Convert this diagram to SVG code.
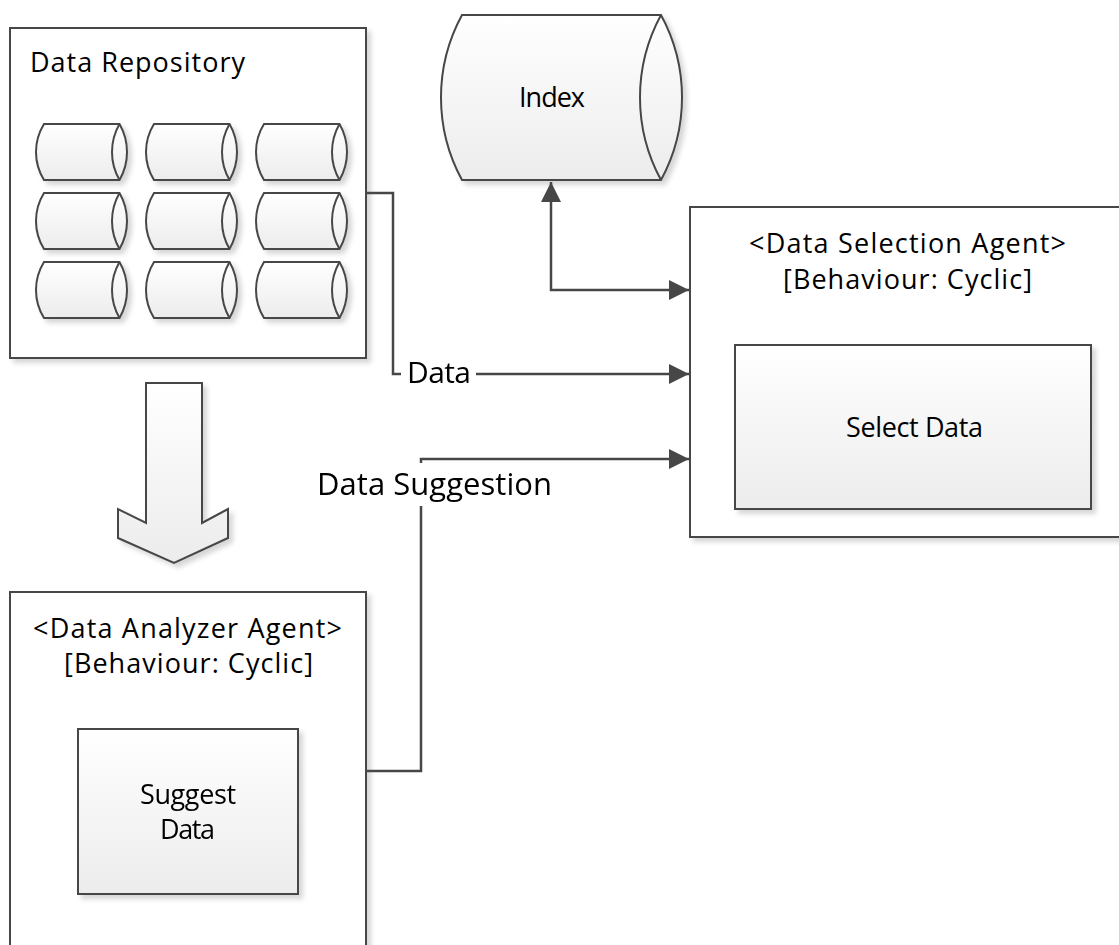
<svg xmlns="http://www.w3.org/2000/svg" width="1119" height="945" viewBox="0 0 1119 945">
  <style>
    .frame { fill: #ffffff; stroke: #474747; stroke-width: 2; }
    .shade { fill: url(#fillGrad); stroke: #474747; stroke-width: 2; }
    .edge { fill: none; stroke: #474747; stroke-width: 2.5; }
    .txt { font-family: "Open Sans", "Liberation Sans", sans-serif; font-size: 27px; fill: #000000; }
    .lbl { font-family: "Open Sans", "Liberation Sans", sans-serif; font-size: 30px; fill: #000000; }
  </style>
  <defs>
    <linearGradient id="fillGrad" x1="0" y1="0" x2="0" y2="1">
      <stop offset="0" stop-color="#ffffff"/>
      <stop offset="1" stop-color="#ececec"/>
    </linearGradient>
    <filter id="shadow" x="-10%" y="-10%" width="130%" height="130%">
      <feDropShadow dx="4" dy="4" stdDeviation="2.5" flood-color="#000000" flood-opacity="0.16"/>
    </filter>
    <marker id="arrow" viewBox="0 0 20 20" refX="20" refY="10" markerWidth="20" markerHeight="20" markerUnits="userSpaceOnUse" orient="auto-start-reverse">
      <path d="M0,0 L20,10 L0,20 Z" fill="#474747"/>
    </marker>
    <!-- small horizontal storage cylinder, 91 x 56 -->
    <g id="cyl">
      <path class="shade" d="M8,0 H83.5 A56 56 0 0 1 83.5 56 H8 A53 53 0 0 1 8 0 Z"/>
      <path class="edge" style="stroke-width:2" d="M83.5,0 A56 56 0 0 0 83.5 56"/>
    </g>
  </defs>

  <rect width="1119" height="945" fill="#ffffff"/>

  <!-- Data Repository -->
  <g id="data-repository">
    <rect class="frame" x="10" y="28" width="356" height="330" filter="url(#shadow)"/>
    <text class="txt" x="30" y="72" textLength="215" lengthAdjust="spacing">Data Repository</text>
    <g filter="url(#shadow)">
      <use href="#cyl" x="36" y="124"/>
      <use href="#cyl" x="146" y="124"/>
      <use href="#cyl" x="256" y="124"/>
      <use href="#cyl" x="36" y="193"/>
      <use href="#cyl" x="146" y="193"/>
      <use href="#cyl" x="256" y="193"/>
      <use href="#cyl" x="36" y="262"/>
      <use href="#cyl" x="146" y="262"/>
      <use href="#cyl" x="256" y="262"/>
    </g>
  </g>

  <!-- Index store -->
  <g id="index">
    <path class="shade" filter="url(#shadow)" d="M462,15 H661 A172.5 172.5 0 0 1 661 180 H462 A172.5 172.5 0 0 1 462 15 Z"/>
    <path class="edge" style="stroke-width:2" d="M661,15 A172.5 172.5 0 0 0 661 180"/>
    <text class="txt" x="519" y="107" textLength="66" lengthAdjust="spacing">Index</text>
  </g>

  <!-- Flow arrow from repository to analyzer -->
  <g id="flow-arrow">
    <polygon class="shade" filter="url(#shadow)" points="146,383 202,383 202,523 228,509 228,538 174,563 118,538 118,509 146,523"/>
  </g>

  <!-- Data Selection Agent -->
  <g id="data-selection-agent">
    <rect class="frame" x="690" y="207" width="440" height="330" filter="url(#shadow)"/>
    <text class="txt" x="749" y="253" textLength="317" lengthAdjust="spacing">&lt;Data Selection Agent&gt;</text>
    <text class="txt" x="783" y="289" textLength="249" lengthAdjust="spacing">[Behaviour: Cyclic]</text>
    <g id="select-data">
      <rect class="shade" x="735" y="345" width="356" height="164" filter="url(#shadow)"/>
      <text class="txt" x="846" y="437" textLength="137" lengthAdjust="spacing">Select Data</text>
    </g>
  </g>

  <!-- Data Analyzer Agent -->
  <g id="data-analyzer-agent">
    <rect class="frame" x="10" y="592" width="356" height="370" filter="url(#shadow)"/>
    <text class="txt" x="33" y="638" textLength="309" lengthAdjust="spacing">&lt;Data Analyzer Agent&gt;</text>
    <text class="txt" x="64" y="673" textLength="249" lengthAdjust="spacing">[Behaviour: Cyclic]</text>
    <g id="suggest-data">
      <rect class="shade" x="78" y="729" width="220" height="165" filter="url(#shadow)"/>
      <text class="txt" x="140" y="804" textLength="96" lengthAdjust="spacing">Suggest</text>
      <text class="txt" x="160" y="839" textLength="55" lengthAdjust="spacing">Data</text>
    </g>
  </g>

  <!-- Connectors -->
  <g id="connectors">
    <path class="edge" d="M551,182 V290 H689" marker-start="url(#arrow)" marker-end="url(#arrow)"/>
    <path class="edge" d="M366,193 H393 V374 H689" marker-end="url(#arrow)"/>
    <path class="edge" d="M366,771 H421 V459 H689" marker-end="url(#arrow)"/>
    <rect x="401" y="358" width="75" height="32" fill="#ffffff"/>
    <text class="lbl" x="407" y="383" textLength="64" lengthAdjust="spacing">Data</text>
    <rect x="312" y="463" width="245" height="43" fill="#ffffff"/>
    <text class="lbl" style="font-size:31px" x="317" y="495" textLength="235" lengthAdjust="spacing">Data Suggestion</text>
  </g>
</svg>
